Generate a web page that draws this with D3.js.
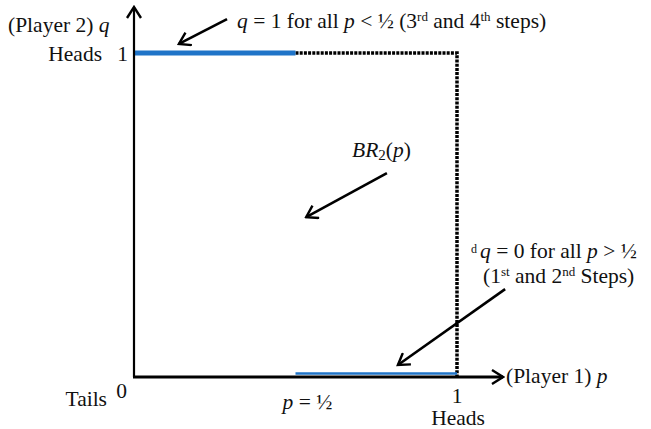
<!DOCTYPE html>
<html lang="en">
<head>
<meta charset="UTF-8">
<title>Best response of Player 2</title>
<script src="https://d3js.org/d3.v7.min.js"></script>
<style>
  body { margin: 0; background: #fff; }
  svg text { font-family: "Liberation Serif", "DejaVu Serif", serif; font-size: 21.5px; fill: #111; }
  .it { font-style: italic; }
</style>
</head>
<body>
<script>
// Data
const brSegments = [            // player 2 best response q for ranges of p
  { p0: 0,   p1: 0.5, q: 1 },
  { p0: 0.5, p1: 1,   q: 0 }
];
const dottedPath = [[0.5, 1], [1, 1], [1, 0]];   // unit square edge
const annoArrows = [            // [from p,q] -> [to p,q]
  { from: [0.288, 1.105], to: [0.139, 1.028] },
  { from: [0.783, 0.628], to: [0.533, 0.492] },
  { from: [1.149, 0.269], to: [0.817, 0.034] }
];

const width = 651, height = 429;
const x = d3.scaleLinear().domain([0, 1]).range([134, 457]);
const y = d3.scaleLinear().domain([0, 1]).range([376, 53]);

const svg = d3.select("body").append("svg")
    .attr("width", width).attr("height", height);

// arrow heads (open chevrons)
svg.append("defs").append("marker")
    .attr("id", "head")
    .attr("viewBox", "-12 -8 14 16")
    .attr("refX", 0).attr("refY", 0)
    .attr("markerWidth", 14).attr("markerHeight", 16)
    .attr("markerUnits", "userSpaceOnUse")
    .attr("orient", "auto")
    .append("path")
    .attr("d", "M-11,-7 L0,0 L-11,7")
    .attr("fill", "none").attr("stroke", "#000").attr("stroke-width", 2.4);

// dotted square edge
svg.append("path")
    .attr("d", d3.line().x(d => x(d[0])).y(d => y(d[1]))(dottedPath))
    .attr("fill", "none").attr("stroke", "#000")
    .attr("stroke-width", 3.5).attr("stroke-dasharray", "3,1.2");

// best-response segments
svg.selectAll(".br")
  .data(brSegments)
  .enter().append("line")
    .attr("x1", d => x(d.p0)).attr("x2", d => x(d.p1))
    .attr("y1", d => y(d.q) - (d.q === 0 ? 2.5 : 0))
    .attr("y2", d => y(d.q) - (d.q === 0 ? 2.5 : 0))
    .attr("stroke", "#1f74c8")
    .attr("stroke-width", d => d.q === 0 ? 2.5 : 5);

// axes
svg.append("line")
    .attr("x1", x(0)).attr("y1", y(0) + 1)
    .attr("x2", x(0)).attr("y2", 7)
    .attr("stroke", "#000").attr("stroke-width", 2.2)
    .attr("marker-end", "url(#head)");
svg.append("line")
    .attr("x1", x(0) - 1).attr("y1", y(0) + 1)
    .attr("x2", 503).attr("y2", y(0) + 1)
    .attr("stroke", "#000").attr("stroke-width", 2.8)
    .attr("marker-end", "url(#head)");

// annotation arrows
svg.selectAll(".anno")
  .data(annoArrows)
  .enter().append("line")
    .attr("x1", d => x(d.from[0])).attr("y1", d => y(d.from[1]))
    .attr("x2", d => x(d.to[0])).attr("y2", d => y(d.to[1]))
    .attr("stroke", "#000").attr("stroke-width", 2.6)
    .attr("marker-end", "url(#head)");

// helper for mixed text
function rich(xp, yp, parts, anchor) {
  const t = svg.append("text").attr("x", xp).attr("y", yp)
      .attr("text-anchor", anchor || "start");
  parts.forEach(p => {
    const s = t.append("tspan").text(p.t);
    if (p.i) s.attr("class", "it");
    if (p.sup) s.attr("baseline-shift", "7").style("font-size", "13px");
    if (p.sub) s.attr("baseline-shift", "-3").style("font-size", "15px");
    if (p.small) s.style("font-size", "12px").attr("baseline-shift", "5");
  });
  return t;
}

// axis labels
rich(8, 32, [{ t: "(Player 2) " }, { t: "q", i: 1 }]);
rich(102, 61, [{ t: "Heads" }], "end");
rich(128, 61, [{ t: "1" }], "end");
rich(107, 406, [{ t: "Tails" }], "end");
rich(127, 398, [{ t: "0" }], "end");
rich(x(0.5) + 12, 409, [{ t: "p", i: 1 }, { t: " = ½" }], "middle");
rich(x(1), 403, [{ t: "1" }], "middle");
rich(x(1) + 1, 425, [{ t: "Heads" }], "middle");
rich(506, 383, [{ t: "(Player 1) " }, { t: "p", i: 1 }]);

// annotations
rich(237, 28, [{ t: "q", i: 1 }, { t: " = 1 for all " }, { t: "p", i: 1 },
  { t: " < ½ (3" }, { t: "rd", sup: 1 }, { t: " and 4" }, { t: "th", sup: 1 }, { t: " steps)" }]);
rich(352, 157, [{ t: "BR", i: 1 }, { t: "2", sub: 1 }, { t: "(" }, { t: "p", i: 1 }, { t: ")" }]);
rich(471, 258, [{ t: "d ", small: 1 }, { t: "q", i: 1 }, { t: " = 0 for all " }, { t: "p", i: 1 }, { t: " > ½" }]);
rich(483, 283, [{ t: "(1" }, { t: "st", sup: 1 }, { t: " and 2" }, { t: "nd", sup: 1 }, { t: "  Steps)" }]);
</script>
</body>
</html>
